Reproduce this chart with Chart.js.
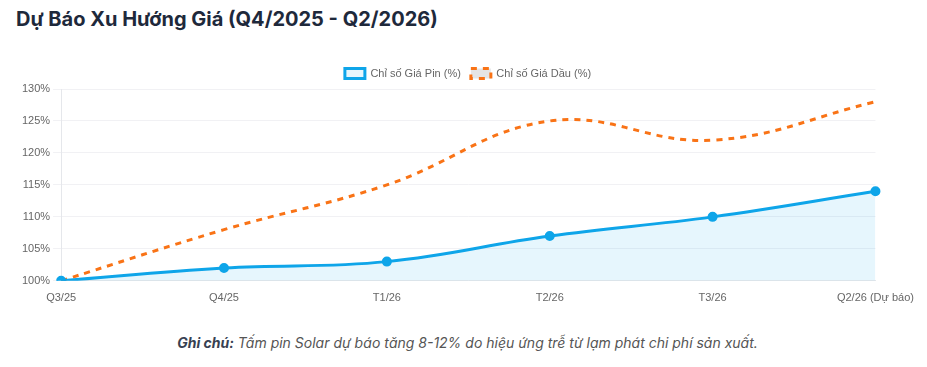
<!DOCTYPE html>
<html>
<head>
<meta charset="utf-8">
<script src="https://cdn.jsdelivr.net/npm/chart.js"></script>
<style>
  html, body { margin: 0; padding: 0; background: #fff; width: 927px; height: 367px; overflow: hidden; font-family: Inter, "Noto Sans", sans-serif; }
  #title { position: absolute; left: 16px; top: 7px; font-size: 20px; font-weight: 700; color: #1e293b; }
  #wrap { position: absolute; left: 19px; top: 58px; width: 898px; height: 250px; }
  #note { position: absolute; left: 0; width: 935px; top: 334px; text-align: center; font-size: 14px; font-style: italic; color: #555; }
  #note b { color: #374151; }
</style>
</head>
<body>
<div id="title">Dự Báo Xu Hướng Giá (Q4/2025 - Q2/2026)</div>
<div id="wrap"><canvas id="c"></canvas></div>
<div id="note"><b>Ghi chú:</b> Tấm pin Solar dự báo tăng 8-12% do hiệu ứng trễ từ lạm phát chi phí sản xuất.</div>
<script>
const categories = ["Q3/25", "Q4/25", "T1/26", "T2/26", "T3/26", "Q2/26 (Dự báo)"];
const pinValues = [100, 102, 103, 107, 110, 114];
const dauValues = [100, 108, 115, 125, 122, 128];
const yTicks = [100, 105, 110, 115, 120, 125, 130];

Chart.defaults.font.family = '"Liberation Sans", Arial, sans-serif';
Chart.defaults.font.size = 11;
Chart.defaults.color = '#666';

new Chart(document.getElementById('c'), {
  type: 'line',
  data: {
    labels: categories,
    datasets: [
      {
        label: 'Chỉ số Giá Pin (%)',
        data: pinValues,
        borderColor: '#0ea5e9',
        backgroundColor: 'rgba(14,165,233,0.1)',
        borderWidth: 3,
        fill: true,
        tension: 0.4,
        pointRadius: 4,
        pointBorderWidth: 2,
        pointBackgroundColor: '#0ea5e9',
        pointBorderColor: '#0ea5e9'
      },
      {
        label: 'Chỉ số Giá Dầu (%)',
        data: dauValues,
        borderColor: '#f97316',
        backgroundColor: 'rgba(0,0,0,0.1)',
        borderWidth: 3,
        borderDash: [6, 6],
        fill: false,
        tension: 0.4,
        pointRadius: 0
      }
    ]
  },
  options: {
    responsive: true,
    maintainAspectRatio: false,
    animation: false,
    plugins: {
      legend: { position: 'top', labels: { boxWidth: 20, boxHeight: 10, font: { size: 11 } } },
      tooltip: { enabled: false }
    },
    scales: {
      x: {
        offset: false,
        grid: { display: false },
        border: { color: '#e5e7eb' },
        ticks: { font: { size: 11 }, maxRotation: 0 }
      },
      y: {
        min: yTicks[0],
        max: yTicks[yTicks.length - 1],
        afterBuildTicks: (axis) => { axis.ticks = yTicks.map(v => ({ value: v })); },
        grid: { color: '#f1f1f4' },
        border: { color: '#e5e7eb' },
        ticks: { font: { size: 11 }, callback: v => v + '%' }
      }
    }
  }
});
</script>
</body>
</html>
